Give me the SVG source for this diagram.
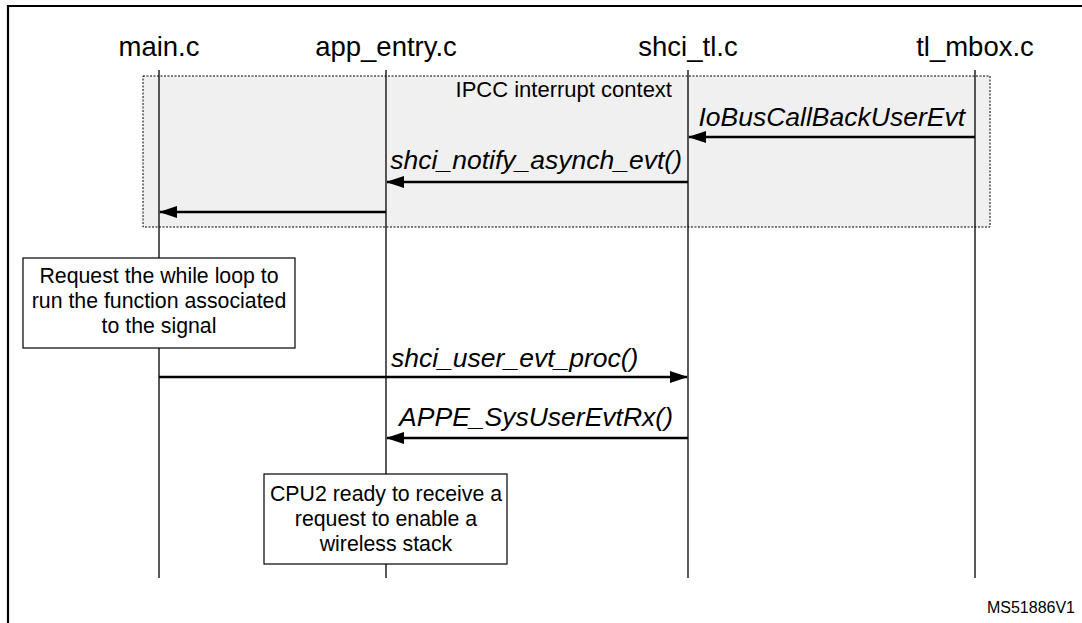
<svg xmlns="http://www.w3.org/2000/svg" width="1082" height="623" viewBox="0 0 1082 623">
<style>
.hdr{font-family:"Liberation Sans",Arial,sans-serif;font-size:27.5px;fill:#000;text-anchor:middle}
.lab{font-family:"Liberation Sans",Arial,sans-serif;font-size:26.5px;font-style:italic;fill:#000}
.note{font-family:"Liberation Sans",Arial,sans-serif;font-size:21.3px;fill:#000;text-anchor:middle}
.life{stroke:#000;stroke-width:1.3;fill:none}
.msg{stroke:#000;stroke-width:2.6;fill:none;marker-end:url(#ah)}
.box{fill:#fff;stroke:#000;stroke-width:1.2}
</style>
<defs>
<marker id="ah" viewBox="0 0 18 12" refX="17" refY="6" markerWidth="18" markerHeight="12" markerUnits="userSpaceOnUse" orient="auto">
<path d="M0,0 L18,6 L0,12 Z" fill="#000"/>
</marker>
</defs>
<rect width="1082" height="623" fill="#fff"/>
<path d="M8,623 V6 H1082" fill="none" stroke="#000" stroke-width="2.2"/>
<g id="context">
<rect x="143" y="76" width="847" height="151" fill="#f0f0f0" stroke="#000" stroke-width="1" stroke-dasharray="2,1.5"/>
<text x="672" y="97" font-family="Liberation Sans, Arial, sans-serif" font-size="22" text-anchor="end">IPCC interrupt context</text>
</g>
<g id="main">
<text x="159" y="56" class="hdr">main.c</text>
<line x1="159" y1="70" x2="159" y2="578" class="life"/>
</g>
<g id="app_entry">
<text x="386" y="56" class="hdr">app_entry.c</text>
<line x1="386" y1="70" x2="386" y2="578" class="life"/>
</g>
<g id="shci_tl">
<text x="688" y="56" class="hdr">shci_tl.c</text>
<line x1="688" y1="70" x2="688" y2="578" class="life"/>
</g>
<g id="tl_mbox">
<text x="975" y="56" class="hdr">tl_mbox.c</text>
<line x1="975" y1="70" x2="975" y2="578" class="life"/>
</g>
<g id="connectors">
<line x1="975" y1="137" x2="689" y2="137" class="msg"/>
<text x="965" y="126" class="lab" text-anchor="end">IoBusCallBackUserEvt</text>
<line x1="688" y1="182" x2="387" y2="182" class="msg"/>
<text x="682" y="169" class="lab" text-anchor="end">shci_notify_asynch_evt()</text>
<line x1="386" y1="212" x2="160" y2="212" class="msg"/>
<line x1="159" y1="377" x2="687" y2="377" class="msg"/>
<text x="391" y="367" class="lab">shci_user_evt_proc()</text>
<line x1="688" y1="438" x2="387" y2="438" class="msg"/>
<text x="673" y="426" class="lab" text-anchor="end">APPE_SysUserEvtRx()</text>
</g>
<g id="note_request">
<rect x="23" y="258" width="272" height="90" class="box"/>
<text x="159" y="283" class="note">Request the while loop to</text>
<text x="159" y="308" class="note">run the function associated</text>
<text x="159" y="333" class="note">to the signal</text>
</g>
<g id="note_cpu2">
<rect x="264" y="474" width="243" height="90" class="box"/>
<text x="386" y="501" class="note">CPU2 ready to receive a</text>
<text x="386" y="526" class="note">request to enable a</text>
<text x="386" y="551" class="note">wireless stack</text>
</g>
<text x="1075" y="613" font-family="Liberation Sans, Arial, sans-serif" font-size="16" text-anchor="end">MS51886V1</text>
</svg>
